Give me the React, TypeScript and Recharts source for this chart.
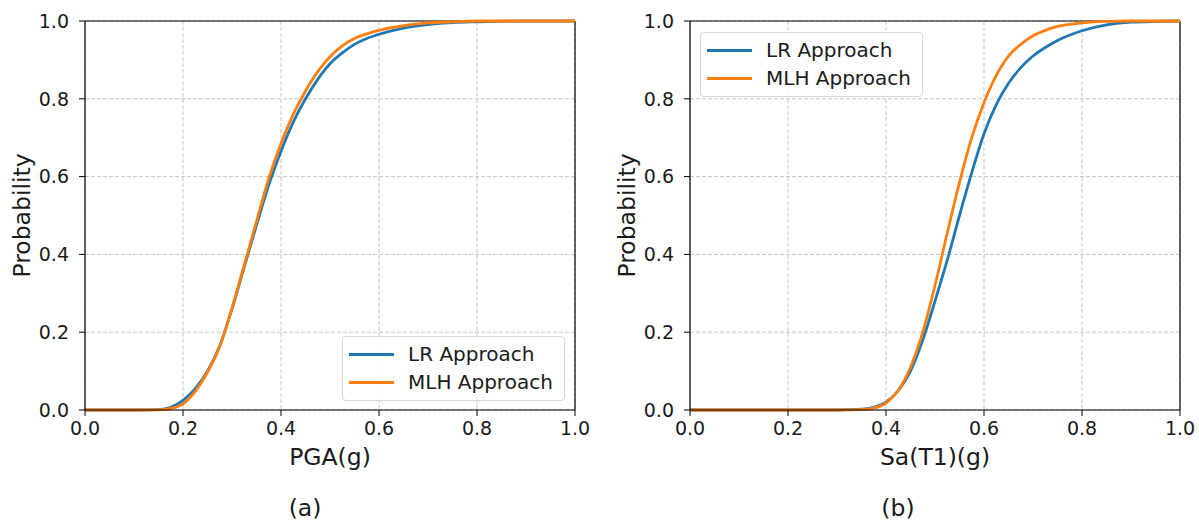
import React from 'react';
import { LineChart, Line, XAxis, YAxis, CartesianGrid, ReferenceLine, Label } from 'recharts';

// tick values shared by both axes of both panels
const TICKS = [0, 0.2, 0.4, 0.6, 0.8, 1.0];

// (a) PGA fragility curves
const PGA_X   = [0, 0.05, 0.1, 0.15, 0.175, 0.2, 0.225, 0.25, 0.275, 0.3, 0.325, 0.35, 0.375, 0.4, 0.425, 0.45, 0.475, 0.5, 0.525, 0.55, 0.575, 0.6, 0.65, 0.7, 0.75, 0.8, 0.9, 1.0];
const PGA_LR  = [0, 0, 0, 0.001, 0.007, 0.025, 0.055, 0.1, 0.165, 0.26, 0.368, 0.475, 0.578, 0.665, 0.74, 0.8, 0.85, 0.89, 0.918, 0.94, 0.955, 0.966, 0.982, 0.991, 0.996, 0.998, 1, 1];
const PGA_MLH = [0, 0, 0, 0.0005, 0.004, 0.016, 0.048, 0.097, 0.163, 0.262, 0.373, 0.485, 0.595, 0.685, 0.76, 0.82, 0.87, 0.908, 0.936, 0.955, 0.967, 0.976, 0.988, 0.995, 0.998, 1, 1, 1];

// (b) Sa(T1) fragility curves
const SA_X   = [0, 0.1, 0.2, 0.3, 0.35, 0.375, 0.4, 0.425, 0.45, 0.475, 0.5, 0.525, 0.55, 0.575, 0.6, 0.625, 0.65, 0.675, 0.7, 0.725, 0.75, 0.8, 0.85, 0.9, 1.0];
const SA_LR  = [0, 0, 0, 0, 0.002, 0.007, 0.02, 0.05, 0.1, 0.18, 0.28, 0.385, 0.5, 0.61, 0.71, 0.785, 0.84, 0.88, 0.91, 0.932, 0.95, 0.975, 0.99, 0.997, 1];
const SA_MLH = [0, 0, 0, 0, 0.001, 0.005, 0.018, 0.05, 0.11, 0.2, 0.32, 0.455, 0.585, 0.7, 0.79, 0.86, 0.91, 0.94, 0.962, 0.976, 0.986, 0.995, 0.999, 1, 1];

const SERIES = [
  { key: 'lr',  name: 'LR Approach',  color: '#1f77b4' },
  { key: 'mlh', name: 'MLH Approach', color: '#ff7f0e' },
];

const FONT = '"DejaVu Sans", Verdana, sans-serif';
const INK = '#1a1a1a';
const tickStyle = { fontSize: 19, fill: INK, fontFamily: FONT };

type PanelProps = {
  left: number; width: number; marginRight: number;
  xs: number[]; lr: number[]; mlh: number[];
  xLabel: string; caption: string; captionX: number;
  legendPos: { left: number; top: number };
};

function LegendBox({ left, top }: { left: number; top: number }) {
  return (
    <div style={{
      position: 'absolute', left, top, width: 221, height: 60, boxSizing: 'content-box',
      border: '1px solid #d6d6d6', borderRadius: 4, background: 'rgba(255,255,255,0.85)',
      paddingTop: 3, fontFamily: FONT, fontSize: 20, color: INK,
    }}>
      {SERIES.map((s) => (
        <div key={s.key} style={{ display: 'flex', alignItems: 'center', height: 28 }}>
          <div style={{ marginLeft: 6, width: 45, height: 3, background: s.color }} />
          <span style={{ marginLeft: 14, whiteSpace: 'nowrap' }}>{s.name}</span>
        </div>
      ))}
    </div>
  );
}

function Panel({ left, width, marginRight, xs, lr, mlh, xLabel, caption, captionX, legendPos }: PanelProps) {
  const data = xs.map((x, i) => ({ x, lr: lr[i], mlh: mlh[i] }));
  return (
    <div style={{ position: 'absolute', left, top: 0, width, height: 523 }}>
      <LineChart width={width} height={523} data={data} margin={{ top: 21, right: marginRight, bottom: 83, left: 0 }}>
        <CartesianGrid stroke="#bdbdbd" strokeDasharray="4 2" strokeWidth={0.9} />
        <XAxis
          dataKey="x" type="number" domain={[0, 1]} ticks={TICKS} height={30}
          tickFormatter={(v: number) => v.toFixed(1)} tick={tickStyle}
          tickSize={6} tickMargin={6} interval={0}
          axisLine={{ stroke: '#000', strokeWidth: 1.2 }} tickLine={{ stroke: '#000' }}
        >
          <Label value={xLabel} position="bottom" offset={8}
            style={{ fontSize: 23.5, fill: INK, fontFamily: FONT }} />
          <Label content={() => (
            <text x={captionX} y={516} textAnchor="middle" fontSize={23.5} fill={INK} fontFamily={FONT}>{caption}</text>
          )} />
        </XAxis>
        <YAxis
          type="number" domain={[0, 1]} ticks={TICKS} width={85}
          tickFormatter={(v: number) => v.toFixed(1)} tick={tickStyle}
          tickSize={6} tickMargin={10} interval={0}
          axisLine={{ stroke: '#000', strokeWidth: 1.2 }} tickLine={{ stroke: '#000' }}
        >
          <Label content={(p: any) => {
            const vb = p && p.viewBox;
            const cy = vb && vb.height ? vb.y + vb.height / 2 : 215;
            return (
              <text x={22} y={cy} transform={`rotate(-90 22 ${cy})`} textAnchor="middle"
                dominantBaseline="central" fontSize={23.5} fill={INK} fontFamily={FONT}>Probability</text>
            );
          }} />
        </YAxis>
        <ReferenceLine y={1} stroke="#000" strokeWidth={1.2} />
        <ReferenceLine x={1} stroke="#000" strokeWidth={1.2} />
        {SERIES.map((s) => (
          <Line key={s.key} type="monotone" dataKey={s.key} name={s.name} stroke={s.color}
            strokeWidth={2.8} dot={false} isAnimationActive={false} />
        ))}
      </LineChart>
      <LegendBox left={legendPos.left} top={legendPos.top} />
    </div>
  );
}

export default function App() {
  return (
    <div style={{ position: 'absolute', left: 0, top: 0, width: 1199, height: 523, background: '#fff', overflow: 'hidden' }}>
      <Panel left={0} width={600} marginRight={25} xs={PGA_X} lr={PGA_LR} mlh={PGA_MLH}
        xLabel="PGA(g)" caption="(a)" captionX={305} legendPos={{ left: 342, top: 336 }} />
      <Panel left={605} width={594} marginRight={19} xs={SA_X} lr={SA_LR} mlh={SA_MLH}
        xLabel="Sa(T1)(g)" caption="(b)" captionX={293} legendPos={{ left: 95, top: 32 }} />
    </div>
  );
}
